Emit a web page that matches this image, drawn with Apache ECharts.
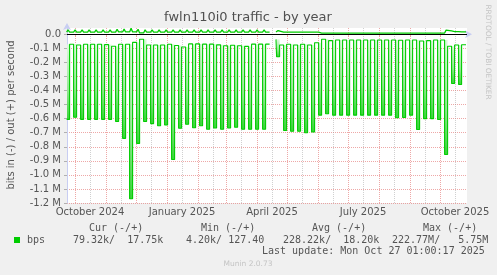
<!DOCTYPE html>
<html>
<head>
<meta charset="utf-8">
<script src="https://cdn.jsdelivr.net/npm/echarts@6/dist/echarts.min.js"></script>
<style>
html,body{margin:0;padding:0;background:#f0f0f0;}
#c{width:497px;height:275px;}
</style>
</head>
<body>
<div id="c"></div>
<script>
// ---------- data ----------
const rangeStart = '2024-09-23';
const rangeEnd = '2025-10-28';
const firstSpike = '2024-09-23';          // weekly peaks start here
const lastUpdate = '2025-10-27T01:00:00Z';

const yTickValues = [0, -0.1, -0.2, -0.3, -0.4, -0.5, -0.6, -0.7, -0.8, -0.9, -1.0, -1.1, -1.2];
const yTickLabels = ['0.0', '-0.1 M', '-0.2 M', '-0.3 M', '-0.4 M', '-0.5 M', '-0.6 M', '-0.7 M', '-0.8 M', '-0.9 M', '-1.0 M', '-1.1 M', '-1.2 M'];

const xLabelDates = ['2024-10-16', '2025-01-16', '2025-04-16', '2025-07-16', '2025-10-16'];
const xLabels = ['October 2024', 'January 2025', 'April 2025', 'July 2025', 'October 2025'];
const monthStarts = ['2024-10-01','2024-11-01','2024-12-01','2025-01-01','2025-02-01','2025-03-01','2025-04-01','2025-05-01','2025-06-01','2025-07-01','2025-08-01','2025-09-01','2025-10-01'];
const midMonths = ['2024-10-16','2024-11-16','2024-12-16','2025-01-16','2025-02-16','2025-03-16','2025-04-16','2025-05-16','2025-06-16','2025-07-16','2025-08-16','2025-09-16','2025-10-16'];

// "in" direction (drawn negative), Mbit/s: weekly peak and level after each peak
const inPeak = [-0.605,-0.59,-0.605,-0.605,-0.605,-0.605,-0.605,-0.62,-0.74,-1.17,
                -0.776,-0.62,-0.635,-0.65,-0.645,-0.89,-0.668,-0.64,-0.665,-0.65,
                -0.675,-0.666,-0.675,-0.666,-0.661,-0.675,-0.675,-0.675,-0.675,null,
                -0.16,-0.684,-0.69,-0.69,-0.70,-0.695,-0.575,-0.565,-0.575,-0.575,
                -0.575,-0.575,-0.575,-0.575,-0.575,-0.575,-0.575,-0.594,-0.592,-0.575,
                -0.677,-0.60,-0.60,-0.606,-0.855,-0.35,-0.357];
const inBase = [-0.071,-0.076,-0.071,-0.071,-0.071,-0.073,-0.085,-0.071,-0.071,-0.057,
                -0.035,-0.076,-0.076,-0.076,-0.071,-0.08,-0.09,-0.068,-0.068,-0.07,
                -0.07,-0.075,-0.081,-0.078,-0.081,-0.086,-0.07,-0.07,-0.07,-0.036,
                -0.076,-0.071,-0.076,-0.071,-0.076,-0.06,-0.035,-0.045,-0.04,-0.04,
                -0.04,-0.04,-0.04,-0.04,-0.04,-0.04,-0.04,-0.042,-0.04,-0.04,
                -0.048,-0.045,-0.04,-0.04,-0.085,-0.076,-0.074];

// "out" direction (positive), Mbit/s
const outPeak = [0.032,0.031,0.032,0.032,0.031,0.032,0.032,0.036,0.037,0.044,
                 0.036,0.032,0.031,0.032,0.032,0.031,0.032,0.032,0.031,0.032,
                 0.032,0.031,0.032,0.032,0.031,0.032,0.032,0.031,0.032,null,
                 0.027,0.027,0.026,0.027,0.027,0.026,0.019,0.018,0.019,0.019,
                 0.018,0.019,0.019,0.018,0.019,0.019,0.018,0.019,0.019,0.018,
                 0.019,0.019,0.018,0.019,0.030,0.027,0.024];
const outBase = [0.016,0.016,0.016,0.016,0.016,0.016,0.016,0.017,0.017,0.017,
                 0.010,0.016,0.016,0.016,0.016,0.016,0.016,0.016,0.016,0.016,
                 0.016,0.016,0.016,0.016,0.016,0.016,0.016,0.016,0.016,0.016,
                 0.015,0.015,0.015,0.015,0.015,0.015,0.009,0.009,0.009,0.009,
                 0.009,0.009,0.009,0.009,0.009,0.009,0.009,0.009,0.009,0.009,
                 0.009,0.009,0.009,0.009,0.024,0.019,0.017];

// ---------- build series ----------
const DAY = 86400000;
const ts = s => Date.parse(s.length > 10 ? s : s + 'T00:00:00Z');
const X_MIN = ts(rangeStart), X_MAX = ts(rangeEnd);
const W0 = ts(firstSpike);
const DATA_END = ts(lastUpdate);
const SPK_FROM = -0.4, SPK_MID = 1.1, SPK_TO = 2.6, RESUME = 6.0;
const tw = (k, off) => W0 + (7 * k + off) * DAY;
const N = inPeak.length;

const inLine = [], inFill = [], outLine = [[tw(0, SPK_FROM), outBase[0]]];
for (let k = 0; k < N; k++) {
  const s = tw(k, SPK_FROM), e = tw(k, SPK_TO);
  const nextS = k < N - 1 ? tw(k + 1, SPK_FROM) : DATA_END;
  if (inPeak[k] === null) {
    inLine.push([s, null], [tw(k, RESUME), inBase[k]], [nextS, inBase[k]]);
  } else {
    const top = k > 0 ? inBase[k - 1] : inBase[0];
    inLine.push([s, inPeak[k]], [e, inPeak[k]], [e, inBase[k]], [nextS, inBase[k]]);
    inFill.push([s, e, top, inPeak[k]]);
  }
  if (outPeak[k] === null) {
    outLine.push([s, null], [tw(k, RESUME), outBase[k]], [nextS, outBase[k]]);
  } else {
    outLine.push([tw(k, SPK_MID), outPeak[k]], [e, outBase[k]], [nextS, outBase[k]]);
  }
}

const GREEN = '#00cc00';
const TXT = '#555555';
const AXIS = '#c8cdf2';
const MGRID = 'rgba(226,110,108,0.6)';
const GRID = 'rgba(150,150,150,0.45)';
const SANS = '"DejaVu Sans", sans-serif';
const MONO = '"DejaVu Sans Mono", monospace';

const yFmt = v => { const i = yTickValues.findIndex(x => Math.abs(x - v) < 1e-9); return i >= 0 ? yTickLabels[i] : ''; };
const xLabelTs = xLabelDates.map(ts);
const xFmt = v => { const i = xLabelTs.findIndex(x => Math.abs(x - v) < 1000); return i >= 0 ? xLabels[i] : ''; };

const chart = echarts.init(document.getElementById('c'), null, { renderer: 'canvas' });
const txt = (text, x, y, extra) => Object.assign({
  type: 'text', x: x, y: y, silent: true, z: 100,
  style: Object.assign({ text: text, fill: TXT, fontFamily: MONO, fontSize: 10, align: 'left', verticalAlign: 'middle' }, extra || {})
});

chart.setOption({
  animation: false,
  backgroundColor: '#f0f0f0',
  textStyle: { fontFamily: SANS },
  grid: { left: 67, right: 30, top: 28, bottom: 72, show: true, backgroundColor: '#ffffff', borderWidth: 0 },
  xAxis: [{
    type: 'value', min: X_MIN, max: X_MAX, gridIndex: 0, position: 'bottom',
    axisLine: { show: true, lineStyle: { color: AXIS, width: 1 }, symbol: ['none', 'arrow'], symbolSize: [6, 7], symbolOffset: [0, 5] },
    axisTick: { show: true, customValues: monthStarts.map(ts), length: 2, lineStyle: { color: MGRID } },
    axisLabel: { show: true, customValues: xLabelTs, formatter: xFmt, color: TXT, fontSize: 10, fontFamily: SANS, margin: 4, hideOverlap: false, showMinLabel: true, showMaxLabel: true },
    splitLine: { show: true, lineStyle: { color: MGRID, width: 1, type: [1, 1] } }
  }, {
    type: 'value', min: X_MIN, max: X_MAX, gridIndex: 0, position: 'top',
    axisLine: { show: false }, axisLabel: { show: false },
    axisTick: { show: false, customValues: midMonths.map(ts) },
    splitLine: { show: true, lineStyle: { color: GRID, width: 1, type: [1, 1] } }
  }],
  yAxis: {
    type: 'value', min: -1.2, max: 0.045,
    axisLine: { show: true, lineStyle: { color: AXIS, width: 1 }, symbol: ['none', 'arrow'], symbolSize: [6, 7], symbolOffset: [0, 5] },
    axisTick: { show: true, customValues: yTickValues, length: 3, lineStyle: { color: '#b0b0b0' } },
    axisLabel: { show: true, customValues: yTickValues, formatter: yFmt, color: TXT, fontSize: 10, fontFamily: SANS, margin: 6 },
    splitLine: { show: true, lineStyle: { color: MGRID, width: 1, type: [1, 1] } }
  },
  series: [{
    type: 'custom', name: 'fill', z: 2, clip: true, silent: true,
    encode: { x: [0, 1], y: [2, 3] },
    data: inFill,
    renderItem: function (params, api) {
      const p0 = api.coord([api.value(0), api.value(2)]);
      const p1 = api.coord([api.value(1), api.value(3)]);
      return {
        type: 'rect',
        shape: { x: p0[0], y: p0[1], width: p1[0] - p0[0], height: p1[1] - p0[1] },
        style: { fill: new echarts.graphic.LinearGradient(0, 0, 0, 1, [
          { offset: 0, color: '#dcf9dc' }, { offset: 0.6, color: '#92e892' }, { offset: 1, color: '#3ad43a' }]) }
      };
    }
  }, {
    type: 'line', name: 'bps in', z: 3, data: inLine, showSymbol: false, symbol: 'none', clip: true,
    connectNulls: false, silent: true,
    lineStyle: { color: GREEN, width: 1.1 }
  }, {
    type: 'line', name: 'bps out', z: 3, data: outLine, showSymbol: false, symbol: 'none', clip: true,
    connectNulls: false, silent: true,
    lineStyle: { color: GREEN, width: 1.3 },
    markLine: {
      silent: true, symbol: 'none', label: { show: false },
      lineStyle: { color: '#000000', width: 1, type: 'solid' },
      data: [{ yAxis: 0 }]
    }
  }],
  graphic: [
    txt('fwln110i0 traffic - by year', 248, 18, { fontFamily: SANS, fontSize: 13, align: 'center', fill: '#505050' }),
    Object.assign(txt('bits in (-) / out (+) per second', 11, 115, { fontFamily: SANS, fontSize: 10, align: 'center' }), { rotation: Math.PI / 2 }),
    Object.assign(txt('RRDTOOL / TOBI OETIKER', 488, 52, { fontFamily: SANS, fontSize: 7.4, align: 'center', fill: '#c4c4c4' }), { rotation: -Math.PI / 2 }),
    txt('Cur (-/+)', 89, 228),
    txt('Min (-/+)', 201, 228),
    txt('Avg (-/+)', 312, 228),
    txt('Max (-/+)', 423, 228),
    { type: 'rect', x: 14, y: 237, silent: true, z: 100, shape: { x: 0, y: 0, width: 6, height: 6 }, style: { fill: GREEN } },
    txt('bps', 27, 240),
    txt('79.32k/  17.75k', 73, 240),
    txt('4.20k/ 127.40', 186, 240),
    txt('228.22k/  18.20k', 283, 240),
    txt('222.77M/   5.75M', 392, 240),
    txt('Last update: Mon Oct 27 01:00:17 2025', 262, 251.5),
    txt('Munin 2.0.73', 248, 264.5, { fontFamily: SANS, fontSize: 7.5, align: 'center', fill: '#c4c4c4' })
  ]
});
</script>
</body>
</html>
